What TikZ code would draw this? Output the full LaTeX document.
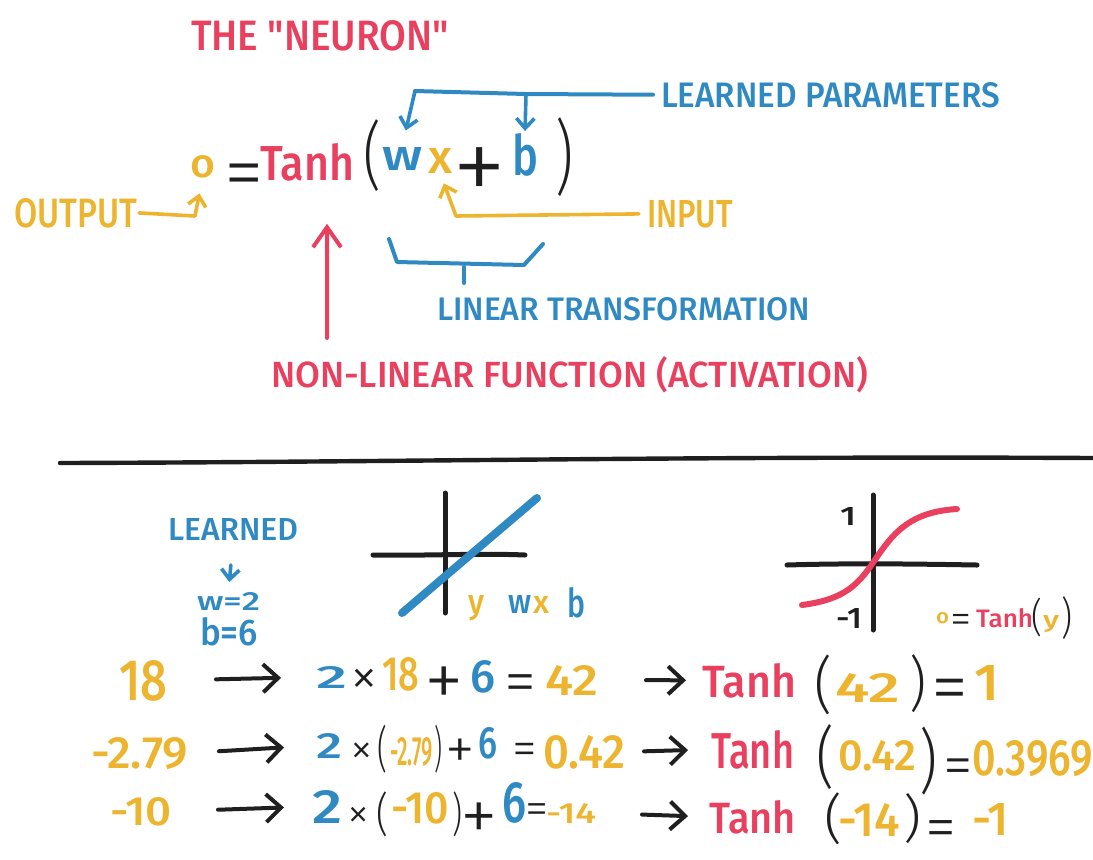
\documentclass[tikz,border=0pt]{standalone}
\usepackage{fontspec}
\IfFontExistsTF{Fira Sans Medium}{\setmainfont{Fira Sans Medium}}{\setmainfont{Fira Sans}}
\IfFontExistsTF{Fira Sans Light}{\newfontfamily\symfnt{Fira Sans Light}}{\newfontfamily\symfnt{Fira Sans}}
\usepackage{graphicx}
\usetikzlibrary{arrows.meta}
\definecolor{nred}{HTML}{E8405E}
\definecolor{nyel}{HTML}{EDB42F}
\definecolor{nblu}{HTML}{2F89C2}
\definecolor{nblk}{HTML}{1F1F1F}
\newlength\pxu \setlength\pxu{0.5pt}
\newcommand\fitw[3]{\resizebox{#1\pxu}{#2\pxu}{#3}}
\newcommand\fitc[3]{\resizebox*{#1\pxu}{#2\pxu}{\symfnt #3}}
\newcommand\pxfont[1]{\symfnt\fontsize{#1\pxu}{#1\pxu}\selectfont}
\tikzset{
  tb/.style={inner sep=0pt, outer sep=0pt, anchor=base west},
  ctr/.style={inner sep=0pt, outer sep=0pt, anchor=center, text=nblk},
  sym/.style={inner sep=0pt, outer sep=0pt, anchor=base, text=nblk, font=\pxfont{#1}},
  stroke/.style={line width=2pt, line cap=round, line join=round},
  arr/.style={-{Straight Barb[length=7.5pt,width=14pt]}, line width=2pt, line cap=round, line join=round, draw=nblk},
  sarr/.style={-{Straight Barb[length=5pt,width=9pt]}, line width=1.8pt, line cap=round, line join=round},
}
\begin{document}
\begin{tikzpicture}[x=0.5pt,y=-0.5pt]
\useasboundingbox (0,0) rectangle (1093,859);
% ---------- top part ----------
\node[tb,text=nred] (title) at (191,50) {\fitw{258}{30}{\addfontfeature{Ligatures=TeXOff}THE "NEURON"}};
\node[tb,text=nyel] (o0) at (190,177) {\fitw{25}{22}{o}};
\node[sym=80] (eq0) at (244,199) {=};
\node[tb,text=nred] (tanh0) at (260,180) {\fitw{94}{37}{Tanh}};
\node[ctr] (pa) at (372,156) {\fitc{18}{72}{(}};
\node[tb,text=nblu] (w0) at (382,170) {\fitw{40}{23}{w}};
\node[tb,text=nyel] (x0) at (428,173) {\fitw{24}{25}{x}};
\node[sym=110] (pl0) at (480,203) {+};
\node[tb,text=nblu] (b0) at (512,175) {\fitw{26}{42}{b}};
\node[ctr] (pb) at (564,157) {\fitc{18}{79}{)}};

\node[tb,text=nblu] (lp) at (661,107) {\fitw{339}{25}{LEARNED PARAMETERS}};
\node[tb,text=nyel] (inp) at (647,227) {\fitw{86}{27}{INPUT}};
\node[tb,text=nyel] (out) at (14,227) {\fitw{123}{29}{OUTPUT}};
\node[tb,text=nblu] (lt) at (437,320) {\fitw{373}{23}{LINEAR TRANSFORMATION}};
\node[tb,text=nred] (nl) at (271,387) {\fitw{597}{31}{NON-LINEAR FUNCTION (ACTIVATION)}};

\coordinate (lpm) at (526,94);
\coordinate (lpl) at (415,91);
\draw[stroke,nblu,shorten <=4pt] (lp.west) -- (lpm) -- (lpl);
\draw[sarr,nblu,shorten >=8.5pt] (lpl) -- (w0.north);
\draw[sarr,nblu,shorten >=1pt] (lpm) -- (b0.north);

\coordinate (inpc) at (456,216);
\draw[sarr,nyel,shorten <=4pt,shorten >=5.5pt] (inp.west) -- (inpc) -- (x0.south);
\coordinate (outc) at (195,216);
\draw[sarr,nyel,shorten <=1pt,shorten >=8pt] (out.east) -- (outc) -- (o0.south);

\draw[-{Straight Barb[length=10pt,width=14pt]},line width=2pt,line cap=round,line join=round,nred]
  ([xshift=28pt,yshift=9pt]nl.north west) -- ([xshift=10pt,yshift=-21.5pt]tanh0.south);

\coordinate (brl) at (389,239);
\coordinate (brr) at (543,244);
\coordinate (brt) at (464,267);
\draw[stroke,nblu] (brl) -- (397,262) -- (524,265) -- (brr);
\draw[stroke,nblu] (brt) -- ++(0,16);

% ---------- divider ----------
\draw[line width=2.2pt,nblk,line cap=round] (60,463) .. controls (400,462) and (700,456) .. (1093,458);

% ---------- learned ----------
\node[tb,text=nblu] (lrn) at (168,540) {\fitw{130}{22}{LEARNED}};
\node[tb,text=nblu] (w2) at (197,610) {\fitw{63}{18}{w=2}};
\node[tb,text=nblu] (b6) at (200,645) {\fitw{58}{28}{b=6}};
\draw[sarr,nblu,shorten <=12.5pt,shorten >=5pt] (lrn.south) -- (w2.north);

% ---------- linear graph ----------
\draw[line width=2.5pt,nblk,line cap=round] (445,493) -- (445,613);
\draw[line width=2.5pt,nblk,line cap=round] (373,555) .. controls (420,556) and (480,553) .. (525,555);
\draw[line width=4pt,nblu,line cap=round] (402,613) -- (537,498);
\node[tb,text=nyel] (gy) at (468,613) {\fitw{16}{18}{y}};
\node[tb,text=nblu] (gw) at (508,613) {\fitw{23}{18}{w}};
\node[tb,text=nyel] (gx) at (533,613) {\fitw{16}{17}{x}};
\node[tb,text=nblu] (gb) at (567,617) {\fitw{18}{30}{b}};

% ---------- tanh graph ----------
\draw[line width=2.5pt,nblk,line cap=round] (873,495) -- (873,630);
\draw[line width=2.5pt,nblk,line cap=round] (787,565) .. controls (850,563) and (920,564) .. (977,565);
\draw[line width=3pt,nred,line cap=round] (802,605) .. controls (840,600) and (855,588) .. (870,567)
   .. controls (890,538) and (905,512) .. (957,509);
\node[tb,text=nblk] (g1) at (840,525) {\fitw{16}{18}{1}};
\node[tb,text=nblk] (gm1) at (836,628) {\fitw{26}{20}{-1}};
\node[tb,text=nyel] (go) at (936,623) {\fitw{13}{11}{o}};
\node[sym=43] (geq) at (961,633) {=};
\node[tb,text=nred] (gt) at (976,627) {\fitw{57}{19}{Tanh}};
\node[ctr] (gpa) at (1037,617) {\fitc{11}{39}{(}};
\node[tb,text=nyel] (gyy) at (1043,627) {\fitw{16}{12}{y}};
\node[ctr] (gpb) at (1067,618) {\fitc{11}{43}{)}};

% ---------- row 1 ----------
\node[tb,text=nyel] (in1) at (119,700) {\fitw{48}{40}{18}};
\node[tb,text=nblu] (c1) at (316,688) {\fitw{31}{22}{2}};
\node[sym=56] (m1) at (364,695) {×};
\node[tb,text=nyel] (v1) at (382,690) {\fitw{37}{33}{18}};
\node[sym=80] (pl1) at (444,707) {+};
\node[tb,text=nblu] (s1) at (470,692) {\fitw{25}{32}{6}};
\node[sym=65] (e1) at (521,703) {=};
\node[tb,text=nyel] (r1) at (545,695) {\fitw{53}{30}{42}};
\node[tb,text=nred] (t1) at (702,697) {\fitw{94}{34}{Tanh}};
\node[ctr] (po1) at (823,685) {\fitc{18}{60}{(}};
\node[tb,text=nyel] (a1) at (835,702) {\fitw{65}{29}{42}};
\node[ctr] (pc1) at (918,684) {\fitc{17}{58}{)}};
\node[sym=75] (f1) at (950,712) {=};
\node[tb,text=nyel] (o1) at (974,700) {\fitw{25}{35}{1}};
\draw[arr,shorten <=24.5pt,shorten >=17.5pt] (in1.east) -- (c1.west);
\draw[arr,shorten <=24pt,shorten >=8pt] (r1.east) -- (t1.west);

% ---------- row 2 ----------
\node[tb,text=nyel] (in2) at (91,768) {\fitw{97}{31}{-2.79}};
\node[tb,text=nblu] (c2) at (316,758) {\fitw{26}{25}{2}};
\node[sym=46] (m2) at (362,764) {×};
\node[ctr] (po2) at (382,749) {\fitc{10}{48}{(}};
\node[tb,text=nyel] (v2) at (390,765) {\fitw{43}{28}{-2.79}};
\node[ctr] (pc2) at (438,749) {\fitc{8}{48}{)}};
\node[sym=60] (pl2) at (460,769) {+};
\node[tb,text=nblu] (s2) at (478,758) {\fitw{19}{31}{6}};
\node[sym=50] (e2) at (525,765) {=};
\node[tb,text=nyel] (r2) at (543,768) {\fitw{82}{33}{0.42}};
\node[tb,text=nred] (t2) at (711,768) {\fitw{83}{38}{Tanh}};
\node[ctr] (po3) at (825,757) {\fitc{18}{65}{(}};
\node[tb,text=nyel] (a2) at (838,770) {\fitw{78}{30}{0.42}};
\node[ctr] (pc3) at (928,761) {\fitc{18}{68}{)}};
\node[sym=60] (f2) at (958,785) {=};
\node[tb,text=nyel] (o2) at (972,775) {\fitw{121}{35}{0.3969}};
\draw[arr,shorten <=15.5pt,shorten >=16pt] (in2.east) -- (c2.west);
\draw[arr,shorten <=9.5pt,shorten >=11.5pt] (r2.east) -- (t2.west);

% ---------- row 3 ----------
\node[tb,text=nyel] (in3) at (110,825) {\fitw{62}{28}{-10}};
\node[tb,text=nblu] (c3) at (312,823) {\fitw{30}{33}{2}};
\node[sym=45] (m3) at (359,828) {×};
\node[ctr] (po4) at (382,814) {\fitc{12}{45}{(}};
\node[tb,text=nyel] (v3) at (391,823) {\fitw{58}{31}{-10}};
\node[ctr] (pc4) at (457,814) {\fitc{10}{45}{)}};
\node[sym=76] (pl3) at (479,841) {+};
\node[tb,text=nblu] (s3) at (502,822) {\fitw{24}{40}{6}};
\node[sym=47] (e3) at (537,824) {=};
\node[tb,text=nyel] (r3) at (546,823) {\fitw{50}{20}{-14}};
\node[tb,text=nred] (t3) at (709,833) {\fitw{87}{33}{Tanh}};
\node[ctr] (po5) at (833,819) {\fitc{18}{52}{(}};
\node[tb,text=nyel] (a3) at (838,836) {\fitw{62}{33}{-14}};
\node[ctr] (pc5) at (912,819) {\fitc{18}{50}{)}};
\node[sym=63] (f3) at (941,848) {=};
\node[tb,text=nyel] (o3) at (972,835) {\fitw{37}{32}{-1}};
\draw[arr,shorten <=23pt,shorten >=14pt] (in3.east) -- (c3.west);
\draw[arr,shorten <=23pt,shorten >=10.5pt] (r3.east) -- (t3.west);
\end{tikzpicture}
\end{document}
